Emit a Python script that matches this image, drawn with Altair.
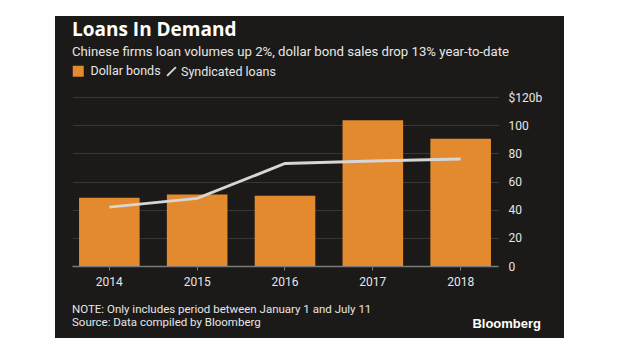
import altair as alt
import pandas as pd

years = ["2014", "2015", "2016", "2017", "2018"]
dollar_bonds = [48.5, 50.8, 49.9, 103.5, 90.3]
syndicated_loans = [41.8, 48.0, 72.8, 74.5, 76.0]
y_ticks = [0, 20, 40, 60, 80, 100, 120]

title_text = "Loans In Demand"
subtitle_text = "Chinese firms loan volumes up 2%, dollar bond sales drop 13% year-to-date"
note_text = "NOTE: Only includes period between January 1 and July 11"
source_text = "Source: Data compiled by Bloomberg"
brand_text = "Bloomberg"
series_names = ["Dollar bonds", "Syndicated loans"]

BG = "#1c1a18"
ORANGE = "#e28a2d"
LINE = "#d6d6d6"
TXT = "#e6e6e6"
FONT = "Roboto, Noto Sans"

df = pd.DataFrame({
    "year": years,
    "bonds": dollar_bonds,
    "loans": syndicated_loans,
    "s1": [series_names[0]] * len(years),
    "s2": [series_names[1]] * len(years),
})


def x_enc():
    return alt.X("year:N", sort=years, title=None,
                 scale=alt.Scale(paddingInner=0.31, paddingOuter=0.08),
                 axis=alt.Axis(labelAngle=0, labelColor=TXT, labelFont=FONT, labelFontSize=12,
                               domainColor="#7a7a7a", domainWidth=1.5, tickColor="#7a7a7a",
                               tickSize=4, labelPadding=6, grid=False))


y_scale = alt.Scale(domain=[0, 120], nice=False)


def y_axis():
    return alt.Axis(orient="right", values=y_ticks, title=None, domain=False, ticks=False,
                    labelColor=TXT, labelFont=FONT, labelFontSize=12, labelPadding=10,
                    labelOverlap=False,
                    gridColor="#555555", gridDash=[1, 1], gridWidth=1,
                    labelExpr="datum.value == 120 ? '$120b' : datum.label")


bars = alt.Chart(df).mark_bar(color=ORANGE).encode(
    x=x_enc(),
    y=alt.Y("bonds:Q", scale=y_scale, axis=y_axis()),
    color=alt.Color("s1:N", scale=alt.Scale(domain=[series_names[0]], range=[ORANGE]),
                    legend=alt.Legend(title=None, orient="none", legendX=0, legendY=-32,
                                      symbolType="square", symbolSize=121, symbolStrokeWidth=0,
                                      labelColor=TXT, labelFont=FONT, labelFontSize=12.5,
                                      labelOffset=6, padding=0)),
)

line = alt.Chart(df).mark_line(strokeWidth=3).encode(
    x=x_enc(),
    y=alt.Y("loans:Q", scale=y_scale, axis=y_axis()),
    stroke=alt.Stroke("s2:N", scale=alt.Scale(domain=[series_names[1]], range=[LINE]),
                      legend=alt.Legend(title=None, orient="none", legendX=93, legendY=-32,
                                        symbolType="M-0.8,0.8L0.8,-0.8", symbolSize=121,
                                        symbolStrokeWidth=2, symbolFillColor="transparent",
                                        labelColor=TXT, labelFont=FONT, labelFontSize=12.5,
                                        labelOffset=3, padding=0)),
)


def text_layer(txt, x, y, size, weight="normal", color=TXT, align="left", font=FONT):
    return alt.Chart(pd.DataFrame({"t": [txt]})).mark_text(
        align=align, baseline="alphabetic", fontSize=size, fontWeight=weight,
        color=color, font=font,
    ).encode(text="t:N", x=alt.value(x), y=alt.value(y))


t_title = text_layer(title_text, 0, -61, 19, "bold", "#ffffff", font="Open Sans, Noto Sans")
t_sub = text_layer(subtitle_text, 0, -41, 13.2)
t_note = text_layer(note_text, 0, 215.5, 11.5)
t_src = text_layer(source_text, 0, 228.7, 11.5)
t_brand = text_layer(brand_text, 469, 231, 13, "bold", "#ffffff", align="right",
                     font="Liberation Sans, Arial")

frame = alt.Chart(pd.DataFrame({"a": [0]})).mark_rect(
    fillOpacity=0, stroke="white", strokeWidth=100
).encode(x=alt.value(-67), x2=alt.value(542), y=alt.value(-131), y2=alt.value(291))

chart = alt.layer(bars, line, t_title, t_sub, t_note, t_src, t_brand, frame).resolve_scale(
    color="independent", stroke="independent"
).properties(
    width=426, height=169,
    padding={"left": 72, "top": 97, "right": 122, "bottom": 89},
    autosize=alt.AutoSizeParams(type="none"),
    background=BG,
).configure_view(strokeWidth=0)

chart.save("out.html", embed_options={"renderer": "svg", "actions": False})
